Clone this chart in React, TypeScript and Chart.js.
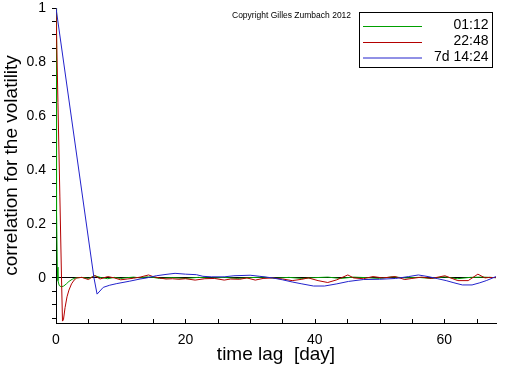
import React, { useEffect, useRef } from "react";
import { Chart, registerables } from "chart.js";

Chart.register(...registerables);

const seriesLabels = ["01:12", "22:48", "7d 14:24"];
const seriesColors = ["#00a000", "#b40000", "#2222cc"];

const greenLag = [0, 0.05, 0.12, 0.2, 0.3, 0.5, 0.8, 1.2, 1.6, 2.0, 2.5, 3.0, 4, 5, 6, 7, 8, 9, 10, 11, 12, 13, 14, 15, 16, 18, 20, 22, 24, 26, 28, 30, 32, 34, 36, 38, 40, 42, 44, 46, 48, 50, 52, 54, 56, 58, 60, 62, 64, 66, 68];
const greenVal = [1, 0.62, 0.25, 0.04, -0.01, -0.028, -0.033, -0.03, -0.022, -0.013, -0.005, 0.0, 0.002, -0.002, 0.008, 0.001, -0.003, 0.002, -0.002, 0.001, 0.003, 0.0, 0.004, 0.002, -0.002, 0.001, -0.002, 0.002, -0.001, 0.002, -0.002, 0.001, 0.003, -0.001, 0.002, -0.002, 0.001, 0.003, -0.002, 0.003, 0.001, -0.002, 0.004, 0.0, 0.002, -0.002, 0.004, -0.003, 0.002, 0.003, 0.001];

const redLag = [0, 0.3, 0.6, 0.85, 1.0, 1.15, 1.4, 1.7, 2.0, 2.4, 2.8, 3.2, 4, 5, 6, 6.8, 8, 9, 10, 11, 12, 13, 14.3, 15, 16, 17, 18, 19, 20, 21.5, 23, 24.5, 26, 27, 28.4, 29.5, 30.8, 32, 33.5, 35, 36.5, 38, 39, 40.5, 42, 43.4, 45.1, 46, 47.5, 49, 50.5, 52.4, 53.9, 55, 56.5, 58, 60.1, 61, 62.1, 63.7, 65.2, 66.3, 67, 68];
const redVal = [1, 0.65, 0.3, 0.0, -0.16, -0.155, -0.11, -0.07, -0.045, -0.022, -0.008, 0.0, 0.002, -0.006, 0.009, -0.004, 0.005, 0.0, -0.007, -0.004, -0.001, 0.003, 0.011, 0.005, 0.0, -0.004, -0.003, -0.005, -0.003, -0.008, -0.003, -0.002, -0.008, -0.004, -0.005, 0.0, -0.008, -0.002, 0.0, -0.004, -0.01, -0.005, 0.0, -0.01, -0.017, -0.007, 0.011, 0.0, -0.003, 0.005, 0.0, 0.005, -0.006, -0.002, 0.003, -0.002, 0.008, 0.0, -0.01, -0.01, 0.014, 0.0, 0.002, 0.001];

const blueLag = [0, 5.87, 6.35, 7.3, 8.3, 9.4, 11.4, 13, 14, 15.5, 17, 18.4, 20, 21.7, 22.7, 24, 26, 27.5, 30, 31.5, 33.5, 35, 36.5, 38, 39.8, 41.5, 43.4, 45.2, 47.5, 50, 52.5, 54.5, 56, 57.5, 59, 60.3, 61.5, 62.8, 64.3, 65.5, 66.5, 68];
const blueVal = [1, 0, -0.06, -0.035, -0.027, -0.021, -0.012, -0.004, 0.0, 0.008, 0.013, 0.017, 0.014, 0.012, 0.006, 0.004, 0.004, 0.008, 0.01, 0.006, 0.0, -0.007, -0.015, -0.022, -0.03, -0.03, -0.022, -0.013, -0.006, -0.005, -0.002, 0.005, 0.011, 0.005, -0.003, -0.01, -0.018, -0.026, -0.026, -0.018, -0.01, 0.005];

const xTicks = [0, 5, 10, 15, 20, 25, 30, 35, 40, 45, 50, 55, 60, 65];
const xLabels = [0, 20, 40, 60];
const yTicks = [-0.15, -0.1, -0.05, 0, 0.05, 0.1, 0.15, 0.2, 0.25, 0.3, 0.35, 0.4, 0.45, 0.5, 0.55, 0.6, 0.65, 0.7, 0.75, 0.8, 0.85, 0.9, 0.95, 1];
const yLabels = [0, 0.2, 0.4, 0.6, 0.8, 1];

const copyrightText = "Copyright Gilles Zumbach 2012";
const FONT = "'Liberation Sans', Arial, sans-serif";

const toPoints = (xs: number[], ys: number[]) => xs.map((x, i) => ({ x, y: ys[i] }));

const decorPlugin = {
  id: "decor",
  afterDraw(chart: any) {
    const ctx = chart.ctx;
    const xs = chart.scales.x;
    const area = chart.chartArea;
    ctx.save();
    ctx.strokeStyle = "#000";
    ctx.lineWidth = 1;
    ctx.beginPath();
    xTicks.forEach((v) => {
      if (v === 0) return;
      const px = Math.round(xs.getPixelForValue(v)) + 0.5;
      ctx.moveTo(px, area.bottom);
      ctx.lineTo(px, area.bottom - 4);
    });
    ctx.stroke();

    ctx.fillStyle = "#000";
    ctx.font = `8.5px ${FONT}`;
    ctx.textAlign = "left";
    ctx.textBaseline = "middle";
    ctx.fillText(copyrightText, 232, 15.5);

    const bx = 359.5, by = 12.5, bw = 133, bh = 55;
    ctx.fillStyle = "#fff";
    ctx.fillRect(bx, by, bw, bh);
    ctx.strokeStyle = "#000";
    ctx.strokeRect(bx, by, bw, bh);
    const rows = [26, 42, 57.5];
    chart.data.datasets.forEach((ds: any, i: number) => {
      const y = rows[i] + 0.5;
      ctx.strokeStyle = ds.borderColor;
      ctx.beginPath();
      ctx.moveTo(363, y);
      ctx.lineTo(422, y);
      ctx.stroke();
      ctx.fillStyle = "#000";
      ctx.font = `14px ${FONT}`;
      ctx.textAlign = "right";
      ctx.textBaseline = "middle";
      ctx.fillText(ds.label, 488.5, rows[i] - 0.5);
    });
    ctx.restore();
  },
};

export default function App() {
  const ref = useRef<HTMLCanvasElement>(null);
  useEffect(() => {
    if (!ref.current) return;
    const lags = [greenLag, redLag, blueLag];
    const vals = [greenVal, redVal, blueVal];
    const chart = new Chart(ref.current, {
      type: "line",
      data: {
        datasets: seriesLabels.map((label, i) => ({
          label,
          data: toPoints(lags[i], vals[i]),
          borderColor: seriesColors[i],
          backgroundColor: seriesColors[i],
          borderWidth: 1,
          pointRadius: 0,
          tension: 0,
          fill: false,
          order: 3 - i,
        })),
      },
      options: {
        responsive: false,
        animation: false,
        layout: { padding: { top: 0, right: 16, left: 0, bottom: 0 } },
        plugins: { legend: { display: false }, tooltip: { enabled: false } },
        scales: {
          x: {
            type: "linear",
            min: 0,
            max: 68,
            afterFit: (s: any) => { s.height = 43; },
            afterBuildTicks: (s: any) => { s.ticks = xTicks.map((v) => ({ value: v })); },
            ticks: {
              autoSkip: false,
              maxRotation: 0,
              padding: 9,
              color: "#000",
              font: { family: FONT, size: 14 },
              callback: (v: any) => (xLabels.includes(Number(v)) ? String(v) : ""),
            },
            grid: { drawOnChartArea: false, drawTicks: false },
            border: { display: true, color: "#000", width: 1 },
            title: {
              display: true,
              text: "time lag  [day]",
              color: "#000",
              font: { family: FONT, size: 19 },
              padding: { top: 0, bottom: 0 },
            },
          },
          y: {
            type: "linear",
            min: -0.167,
            max: 1,
            afterFit: (s: any) => { s.width = 56; s.paddingTop = 8; },
            afterBuildTicks: (s: any) => { s.ticks = yTicks.map((v) => ({ value: v })); },
            ticks: {
              autoSkip: false,
              padding: 6,
              color: "#000",
              font: { family: FONT, size: 14 },
              callback: (v: any) => {
                const n = Number(v);
                const hit = yLabels.find((l) => Math.abs(l - n) < 1e-6);
                return hit !== undefined ? String(hit) : "";
              },
            },
            grid: {
              drawOnChartArea: true,
              drawTicks: true,
              tickLength: 4,
              tickColor: "#000",
              color: (c: any) => (c.tick && Math.abs(c.tick.value) < 1e-9 ? "#000" : "rgba(0,0,0,0)"),
            },
            border: { display: true, color: "#000", width: 1 },
            title: {
              display: true,
              text: "correlation for the volatility",
              color: "#000",
              font: { family: FONT, size: 19 },
              padding: { top: 0, bottom: 0 },
            },
          },
        },
      },
      plugins: [decorPlugin],
    });
    return () => chart.destroy();
  }, []);
  return (
    <div style={{ position: "fixed", left: 0, top: 0, width: 512, height: 366, background: "#fff" }}>
      <canvas ref={ref} width={512} height={366} style={{ display: "block" }} />
    </div>
  );
}
